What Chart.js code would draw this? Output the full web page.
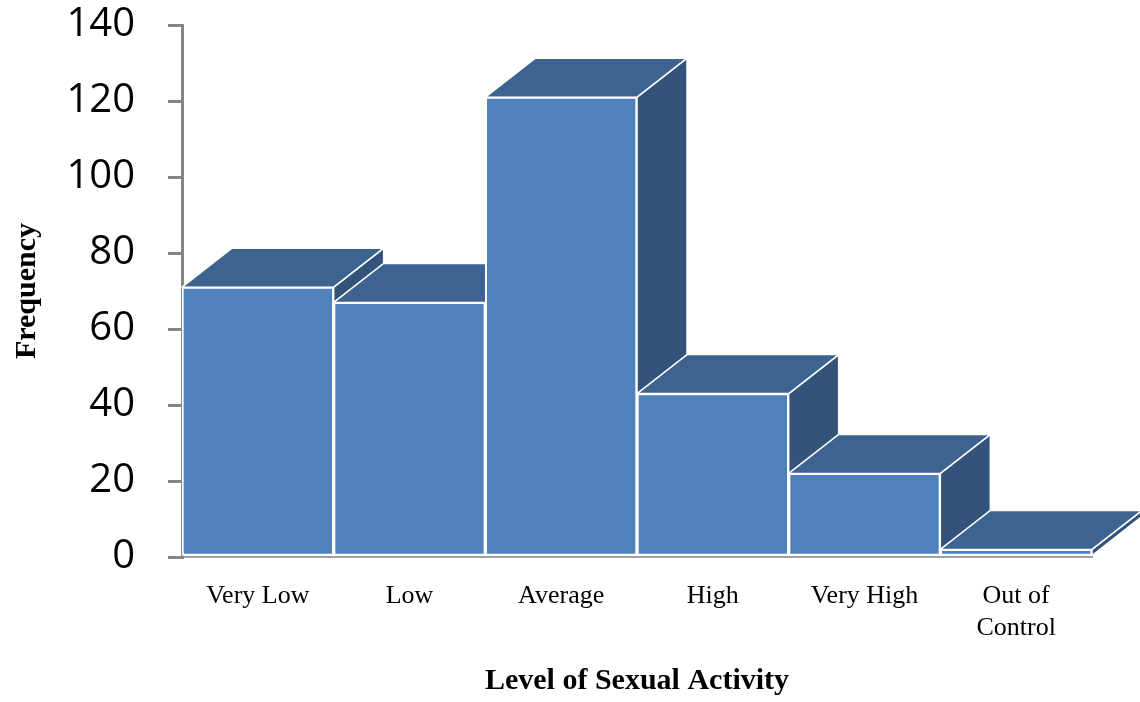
<!DOCTYPE html>
<html>
<head>
<meta charset="utf-8">
<title>Level of Sexual Activity</title>
<script src="https://cdn.jsdelivr.net/npm/chart.js@4/dist/chart.umd.min.js"></script>
<style>
  html, body { margin: 0; padding: 0; background: #fff; }
  #wrap { width: 1140px; height: 702px; }
</style>
</head>
<body>
<div id="wrap"><canvas id="chart" width="1140" height="702"></canvas></div>
<script>
const categories = ['Very Low', 'Low', 'Average', 'High', 'Very High', ['Out of', 'Control']];
const frequency = [71, 67, 121, 43, 22, 2];
const yTicks = [0, 20, 40, 60, 80, 100, 120, 140];

const FRONT = '#4f81bd';
const TOP = '#3d6390';
const SIDE = '#33537a';
const DX = 50, DY = 39;

// draws the top and right faces behind each bar, so the next bar's front covers them
const boxes = {
    id: 'boxes',
    beforeDatasetsDraw(chart) {
        const ctx = chart.ctx;
        const bars = chart.getDatasetMeta(0).data;
        ctx.save();
        ctx.lineWidth = 1.5;
        ctx.strokeStyle = '#ffffff';
        ctx.lineJoin = 'round';
        bars.forEach(bar => {
            const p = bar.getProps(['x', 'y', 'base', 'width'], true);
            const l = p.x - p.width / 2, r = p.x + p.width / 2;
            // side
            ctx.beginPath();
            ctx.moveTo(r, p.y);
            ctx.lineTo(r + DX, p.y - DY);
            ctx.lineTo(r + DX, p.base - DY);
            ctx.lineTo(r, p.base);
            ctx.closePath();
            ctx.fillStyle = SIDE;
            ctx.fill();
            ctx.stroke();
            // top
            ctx.beginPath();
            ctx.moveTo(l, p.y);
            ctx.lineTo(l + DX, p.y - DY);
            ctx.lineTo(r + DX, p.y - DY);
            ctx.lineTo(r, p.y);
            ctx.closePath();
            ctx.fillStyle = TOP;
            ctx.fill();
            ctx.stroke();
        });
        ctx.restore();
    }
};

new Chart(document.getElementById('chart'), {
    type: 'bar',
    data: {
        labels: categories,
        datasets: [{
            label: 'Frequency',
            data: frequency,
            backgroundColor: FRONT,
            borderColor: '#ffffff',
            borderWidth: 2,
            borderSkipped: false,
            barPercentage: 1,
            categoryPercentage: 1
        }]
    },
    options: {
        responsive: false,
        animation: false,
        layout: { padding: { left: 0, right: 48, top: 25, bottom: 0 } },
        plugins: {
            legend: { display: false },
            tooltip: { enabled: false }
        },
        scales: {
            x: {
                afterFit: s => { s.height = 145; },
                grid: { display: false, drawTicks: false },
                border: { display: true, color: '#a0a0a0', width: 2 },
                ticks: {
                    color: '#000',
                    padding: 24,
                    maxRotation: 0,
                    autoSkip: false,
                    font: { family: '"Liberation Serif", "Times New Roman", serif', size: 26 }
                },
                title: {
                    display: true,
                    text: 'Level of Sexual Activity',
                    color: '#000',
                    padding: { top: 0, bottom: 3 },
                    font: { family: '"Liberation Serif", "Times New Roman", serif', size: 30, weight: 'bold' }
                }
            },
            y: {
                min: 0,
                max: 140,
                afterFit: s => {
                    s.width = 182;
                    // label padding would otherwise push the plot area down
                    s.paddingTop = 0;
                    s.paddingBottom = 0;
                },
                afterBuildTicks: s => { s.ticks = yTicks.map(v => ({ value: v })); },
                grid: { drawOnChartArea: false, color: '#868686', lineWidth: 3, tickLength: 14 },
                border: { color: '#868686', width: 3 },
                ticks: {
                    color: '#000',
                    padding: 33,
                    font: { family: '"Open Sans", sans-serif', size: 40 }
                },
                title: {
                    display: true,
                    text: 'Frequency',
                    color: '#000',
                    padding: { top: 9, bottom: 0 },
                    font: { family: '"Liberation Serif", "Times New Roman", serif', size: 30, weight: 'bold' }
                }
            }
        }
    },
    plugins: [boxes]
});
</script>
</body>
</html>
